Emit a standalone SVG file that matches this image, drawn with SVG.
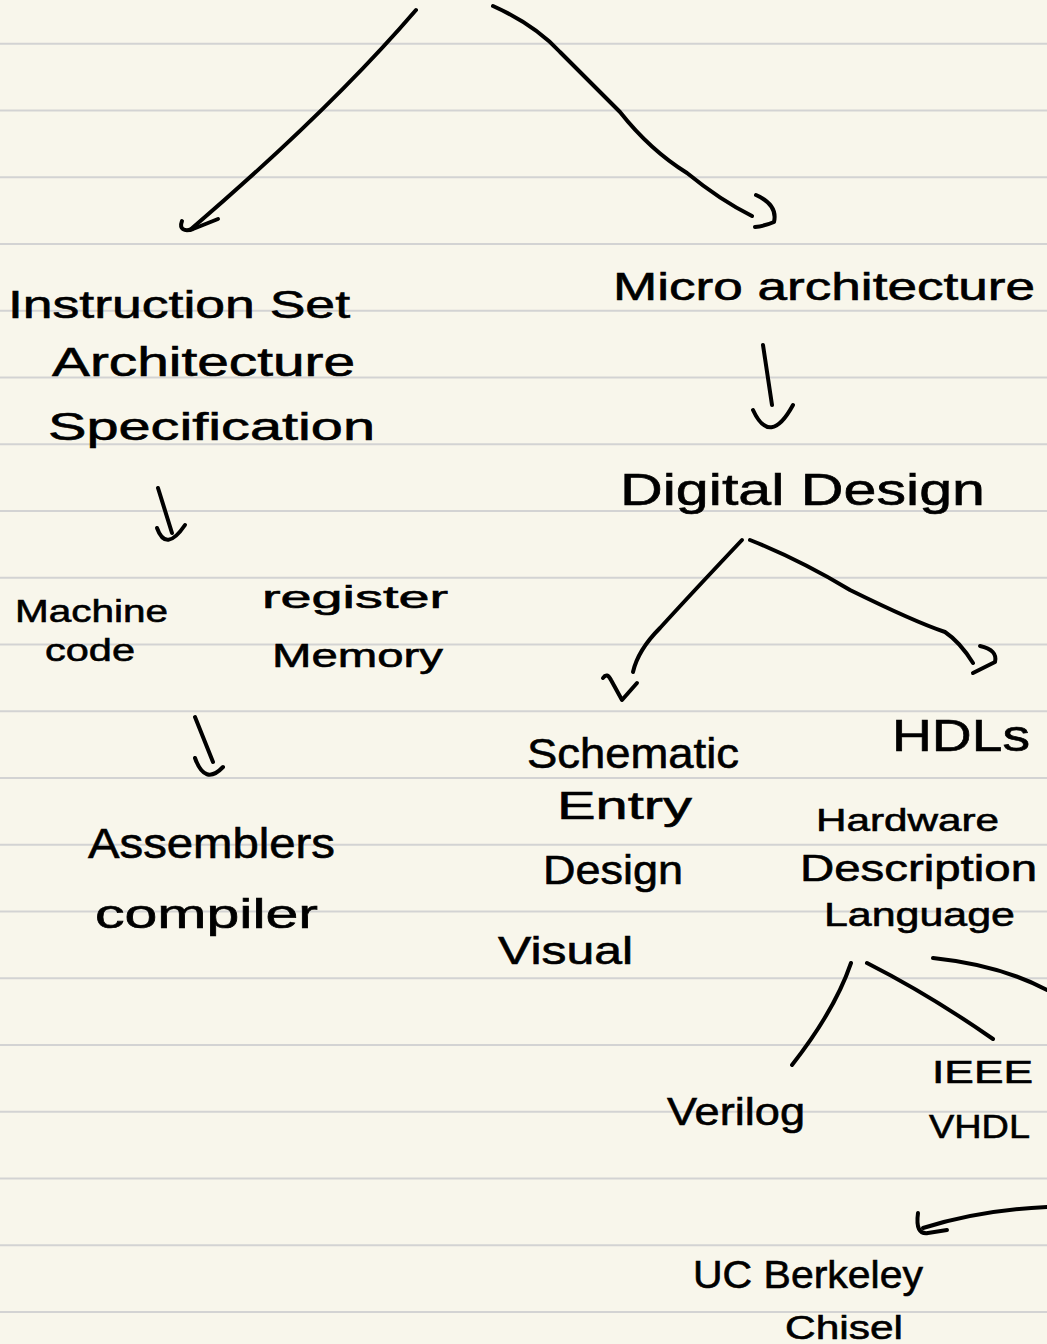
<svg xmlns="http://www.w3.org/2000/svg" width="1047" height="1344" viewBox="0 0 1047 1344">
<style>
.rule{stroke:#d3d3d3;stroke-width:2}
.c{fill:none;stroke:#000;stroke-width:4;stroke-linecap:round;stroke-linejoin:round}
text{font-family:"Liberation Sans","DejaVu Sans",sans-serif;fill:#000;stroke:#000;stroke-width:0.6}
</style>
<rect x="0" y="0" width="1047" height="1344" fill="#f8f6eb"/>
<g id="paper-lines">
<line class="rule" x1="0" y1="43.7" x2="1047" y2="43.7"/>
<line class="rule" x1="0" y1="110.5" x2="1047" y2="110.5"/>
<line class="rule" x1="0" y1="177.2" x2="1047" y2="177.2"/>
<line class="rule" x1="0" y1="244" x2="1047" y2="244"/>
<line class="rule" x1="0" y1="310.7" x2="1047" y2="310.7"/>
<line class="rule" x1="0" y1="377.5" x2="1047" y2="377.5"/>
<line class="rule" x1="0" y1="444.2" x2="1047" y2="444.2"/>
<line class="rule" x1="0" y1="511" x2="1047" y2="511"/>
<line class="rule" x1="0" y1="577.7" x2="1047" y2="577.7"/>
<line class="rule" x1="0" y1="644.5" x2="1047" y2="644.5"/>
<line class="rule" x1="0" y1="711.2" x2="1047" y2="711.2"/>
<line class="rule" x1="0" y1="778" x2="1047" y2="778"/>
<line class="rule" x1="0" y1="844.7" x2="1047" y2="844.7"/>
<line class="rule" x1="0" y1="911.5" x2="1047" y2="911.5"/>
<line class="rule" x1="0" y1="978.2" x2="1047" y2="978.2"/>
<line class="rule" x1="0" y1="1045" x2="1047" y2="1045"/>
<line class="rule" x1="0" y1="1111.7" x2="1047" y2="1111.7"/>
<line class="rule" x1="0" y1="1178.5" x2="1047" y2="1178.5"/>
<line class="rule" x1="0" y1="1245.2" x2="1047" y2="1245.2"/>
<line class="rule" x1="0" y1="1312" x2="1047" y2="1312"/>
</g>
<g id="connectors">
<path class="c" d="M416,10 Q330,110 190,230"/>
<path class="c" d="M182,221 C179,229 184,232 193,229 L218,219"/>
<path class="c" d="M493,6 Q535,25 560,52 L620,112 Q650,150 687,173 Q720,200 752,216"/>
<path class="c" d="M756,195 Q778,205 774,222 Q765,226 755,227"/>
<path class="c" d="M763,345 L772,405"/>
<path class="c" d="M753,410 Q770,447 793,405"/>
<path class="c" d="M742,540 Q690,595 660,628 Q638,650 633,672"/>
<path class="c" d="M603,678 Q607,672 611,680 L622,700 L637,683"/>
<path class="c" d="M750,540 Q800,560 850,590 Q915,622 945,632 Q960,642 973,663"/>
<path class="c" d="M980,646 Q998,650 995,662 L973,673"/>
<path class="c" d="M158,488 L172,533"/>
<path class="c" d="M157,528 Q166,553 185,525"/>
<path class="c" d="M195,717 L213,762"/>
<path class="c" d="M195,758 Q205,786 223,767"/>
<path class="c" d="M851,963 Q835,1010 792,1065"/>
<path class="c" d="M867,963 Q930,995 993,1039"/>
<path class="c" d="M933,958 Q1000,965 1047,990"/>
<path class="c" d="M1047,1207 Q980,1210 923,1228"/>
<path class="c" d="M918,1213 Q915,1235 928,1233 L947,1230"/>
</g>
<g id="isa">
<text x="8" y="318" font-size="38" textLength="342" lengthAdjust="spacingAndGlyphs">Instruction Set</text>
<text x="52" y="376" font-size="40" textLength="303" lengthAdjust="spacingAndGlyphs">Architecture</text>
<text x="48" y="440" font-size="38" textLength="327" lengthAdjust="spacingAndGlyphs">Specification</text>
</g>
<g id="machine-code">
<text x="15" y="622" font-size="32" textLength="153" lengthAdjust="spacingAndGlyphs">Machine</text>
<text x="45" y="661" font-size="32" textLength="90" lengthAdjust="spacingAndGlyphs">code</text>
</g>
<g id="register-memory">
<text x="262" y="608" font-size="32" textLength="186" lengthAdjust="spacingAndGlyphs">register</text>
<text x="272" y="667" font-size="34" textLength="171" lengthAdjust="spacingAndGlyphs">Memory</text>
</g>
<g id="assemblers">
<text x="88" y="858" font-size="42" textLength="247" lengthAdjust="spacingAndGlyphs">Assemblers</text>
<text x="95" y="928" font-size="40" textLength="223" lengthAdjust="spacingAndGlyphs">compiler</text>
</g>
<g id="microarchitecture">
<text x="613" y="300" font-size="38" textLength="422" lengthAdjust="spacingAndGlyphs">Micro architecture</text>
</g>
<g id="digital-design">
<text x="620" y="505" font-size="44" textLength="365" lengthAdjust="spacingAndGlyphs">Digital Design</text>
</g>
<g id="schematic">
<text x="527" y="768" font-size="42" textLength="212" lengthAdjust="spacingAndGlyphs">Schematic</text>
<text x="557" y="819" font-size="38" textLength="135" lengthAdjust="spacingAndGlyphs">Entry</text>
<text x="543" y="884" font-size="40" textLength="140" lengthAdjust="spacingAndGlyphs">Design</text>
<text x="498" y="964" font-size="38" textLength="135" lengthAdjust="spacingAndGlyphs">Visual</text>
</g>
<g id="hdls">
<text x="892" y="751" font-size="44" textLength="138" lengthAdjust="spacingAndGlyphs">HDLs</text>
<text x="816" y="831" font-size="32" textLength="183" lengthAdjust="spacingAndGlyphs">Hardware</text>
<text x="800" y="881" font-size="36" textLength="237" lengthAdjust="spacingAndGlyphs">Description</text>
<text x="824" y="926" font-size="34" textLength="191" lengthAdjust="spacingAndGlyphs">Language</text>
</g>
<g id="verilog">
<text x="667" y="1125" font-size="38" textLength="138" lengthAdjust="spacingAndGlyphs">Verilog</text>
</g>
<g id="vhdl">
<text x="932" y="1083" font-size="32" textLength="101" lengthAdjust="spacingAndGlyphs">IEEE</text>
<text x="929" y="1138" font-size="34" textLength="101" lengthAdjust="spacingAndGlyphs">VHDL</text>
</g>
<g id="chisel">
<text x="693" y="1288" font-size="38" textLength="230" lengthAdjust="spacingAndGlyphs">UC Berkeley</text>
<text x="785" y="1339" font-size="34" textLength="118" lengthAdjust="spacingAndGlyphs">Chisel</text>
</g>
</svg>
